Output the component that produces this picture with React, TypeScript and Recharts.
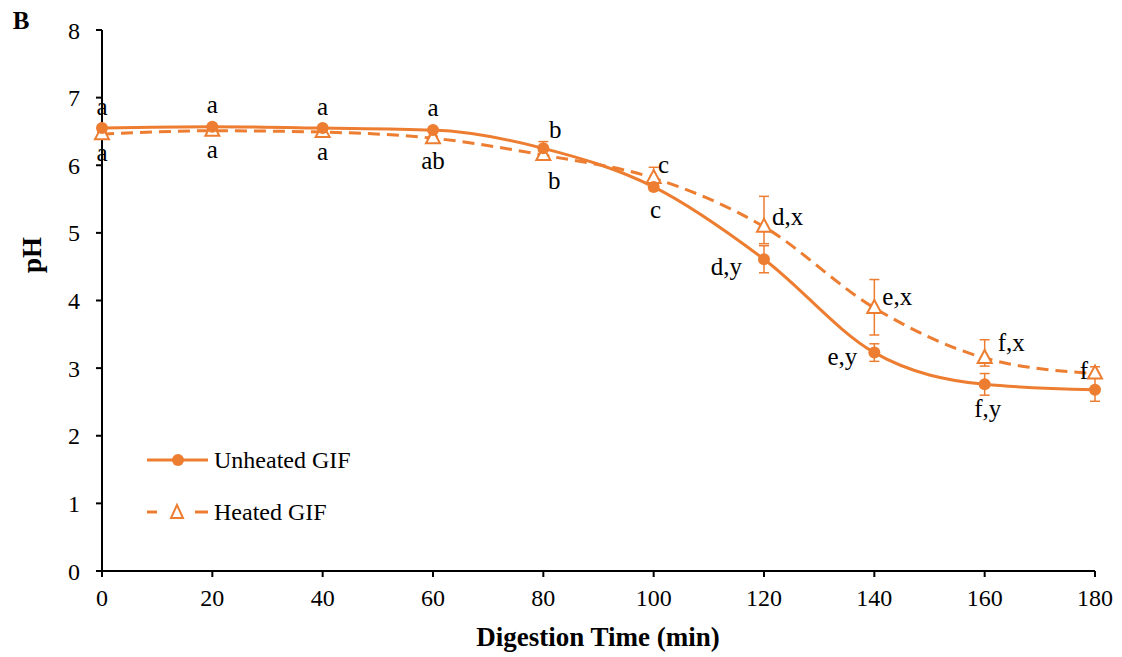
import { LineChart, Line, XAxis, YAxis, ErrorBar, LabelList } from 'recharts';

const orange = '#ED7D31';
const serif = '"Liberation Serif", "Times New Roman", Times, serif';

// digestion time (min)
const times = [0, 20, 40, 60, 80, 100, 120, 140, 160, 180];
const unheatedPH = [6.55, 6.57, 6.55, 6.52, 6.25, 5.68, 4.61, 3.23, 2.76, 2.68];
const unheatedErr = [0.03, 0.03, 0.03, 0.03, 0.1, 0.05, 0.2, 0.13, 0.16, 0.17];
const heatedPH = [6.46, 6.51, 6.49, 6.4, 6.15, 5.81, 5.09, 3.89, 3.15, 2.92];
const heatedErrLow = [0.03, 0.03, 0.03, 0.03, 0.06, 0.05, 0.25, 0.4, 0.12, 0.06];
const heatedErrHigh = [0.03, 0.03, 0.03, 0.03, 0.06, 0.16, 0.45, 0.42, 0.27, 0.1];
const unheatedLetters = ['a', 'a', 'a', 'a', 'b', 'c', 'd,y', 'e,y', 'f,y', ''];
const heatedLetters = ['a', 'a', 'a', 'ab', 'b', 'c', 'd,x', 'e,x', 'f,x', 'f'];
const yTicks = [0, 1, 2, 3, 4, 5, 6, 7, 8];

// where each significance letter sits relative to its point
type Place = { dx: number; dy: number; anchor: 'start' | 'middle' | 'end' };
const unheatedPlace: Place[] = [
  { dx: 0, dy: -22, anchor: 'middle' },
  { dx: 0, dy: -22, anchor: 'middle' },
  { dx: 0, dy: -22, anchor: 'middle' },
  { dx: 0, dy: -23, anchor: 'middle' },
  { dx: 12, dy: -19, anchor: 'middle' },
  { dx: 2, dy: 23, anchor: 'middle' },
  { dx: -22, dy: 7, anchor: 'end' },
  { dx: -17, dy: 4, anchor: 'end' },
  { dx: 3, dy: 24, anchor: 'middle' },
  { dx: 0, dy: 0, anchor: 'middle' },
];
const heatedPlace: Place[] = [
  { dx: 0, dy: 18, anchor: 'middle' },
  { dx: 0, dy: 19, anchor: 'middle' },
  { dx: 0, dy: 19, anchor: 'middle' },
  { dx: 0, dy: 22, anchor: 'middle' },
  { dx: 11, dy: 25, anchor: 'middle' },
  { dx: 10, dy: -14, anchor: 'middle' },
  { dx: 8, dy: -10, anchor: 'start' },
  { dx: 8, dy: -11, anchor: 'start' },
  { dx: 13, dy: -15, anchor: 'start' },
  { dx: -7, dy: -3, anchor: 'end' },
];

const data = times.map((t, i) => ({
  time: t,
  unheated: unheatedPH[i],
  uErr: unheatedErr[i],
  heated: heatedPH[i],
  hErr: [heatedErrLow[i], heatedErrHigh[i]],
}));

const makeLetterLabel = (letters: string[], places: Place[]) => (props: any) => {
  const { x, y, index } = props;
  const text = letters[index];
  if (!text || x == null || y == null) return null;
  const p = places[index];
  return (
    <text
      key={`lbl-${index}`}
      x={x + p.dx}
      y={y + p.dy}
      textAnchor={p.anchor}
      dominantBaseline="central"
      style={{ fontFamily: serif, fontSize: 25 }}
      fill="#000"
    >
      {text}
    </text>
  );
};

const Triangle = (props: any) => {
  const { cx, cy, index } = props;
  if (cx == null || cy == null) return null;
  return (
    <path
      key={`tri-${index}`}
      d={`M${cx},${cy - 8} L${cx + 7},${cy + 5} L${cx - 7},${cy + 5} Z`}
      fill="#fff"
      stroke={orange}
      strokeWidth={2}
    />
  );
};

const LegendBox = () => (
  <svg width={260} height={90} style={{ fontFamily: serif }}>
    <line x1={2} y1={15} x2={63} y2={15} stroke={orange} strokeWidth={3} />
    <circle cx={33} cy={15} r={6} fill={orange} />
    <text x={69} y={15} dominantBaseline="central" style={{ fontFamily: serif, fontSize: 24 }} fill="#000">
      Unheated GIF
    </text>
    <line x1={2} y1={67} x2={12} y2={67} stroke={orange} strokeWidth={3} />
    <line x1={50} y1={67} x2={63} y2={67} stroke={orange} strokeWidth={3} />
    <path d="M32,60 L38,73 L26,73 Z" fill="#fff" stroke={orange} strokeWidth={2} />
    <text x={69} y={67} dominantBaseline="central" style={{ fontFamily: serif, fontSize: 24 }} fill="#000">
      Heated GIF
    </text>
  </svg>
);

const tickStyle = { fill: '#000', fontSize: 24, fontFamily: serif, style: { fontFamily: serif } };

export default function App() {
  return (
    <div
      style={{
        position: 'absolute',
        left: 0,
        top: 0,
        width: 1122,
        height: 657,
        background: '#fff',
        fontFamily: serif,
      }}
    >
      <LineChart width={1122} height={657} data={data} margin={{ top: 30, right: 27, left: 62, bottom: 26 }}>
        <XAxis
          dataKey="time"
          type="number"
          domain={[0, 180]}
          ticks={times}
          tick={tickStyle}
          tickSize={6}
          tickMargin={12}
          height={60}
          stroke="#000"
          strokeWidth={2}
        />
        <YAxis
          type="number"
          domain={[0, 8]}
          ticks={yTicks}
          tick={tickStyle}
          tickSize={6}
          tickMargin={16}
          width={40}
          stroke="#000"
          strokeWidth={2}
          interval={0}
        />
        <Line
          dataKey="heated"
          type="monotone"
          stroke={orange}
          strokeWidth={3}
          strokeDasharray="12 7"
          dot={<Triangle />}
          isAnimationActive={false}
        >
          <ErrorBar dataKey="hErr" direction="y" width={5} stroke={orange} strokeWidth={1.5} />
          <LabelList dataKey="heated" content={makeLetterLabel(heatedLetters, heatedPlace)} />
        </Line>
        <Line
          dataKey="unheated"
          type="monotone"
          stroke={orange}
          strokeWidth={3}
          dot={{ r: 6, fill: orange, stroke: orange, strokeWidth: 0 }}
          isAnimationActive={false}
        >
          <ErrorBar dataKey="uErr" direction="y" width={5} stroke={orange} strokeWidth={1.5} />
          <LabelList dataKey="unheated" content={makeLetterLabel(unheatedLetters, unheatedPlace)} />
        </Line>
      </LineChart>
      <div style={{ position: 'absolute', left: 145, top: 445 }}>
        <LegendBox />
      </div>
      <div
        style={{
          position: 'absolute',
          left: 21,
          top: 21,
          transform: 'translate(-50%, -50%)',
          fontWeight: 'bold',
          fontSize: 25,
        }}
      >
        B
      </div>
      <div
        style={{
          position: 'absolute',
          left: 32,
          top: 255,
          transform: 'translate(-50%, -50%) rotate(-90deg)',
          fontWeight: 'bold',
          fontSize: 27,
        }}
      >
        pH
      </div>
      <div
        style={{
          position: 'absolute',
          left: 598,
          top: 637,
          transform: 'translate(-50%, -50%)',
          fontWeight: 'bold',
          fontSize: 27,
          whiteSpace: 'nowrap',
        }}
      >
        Digestion Time (min)
      </div>
    </div>
  );
}
